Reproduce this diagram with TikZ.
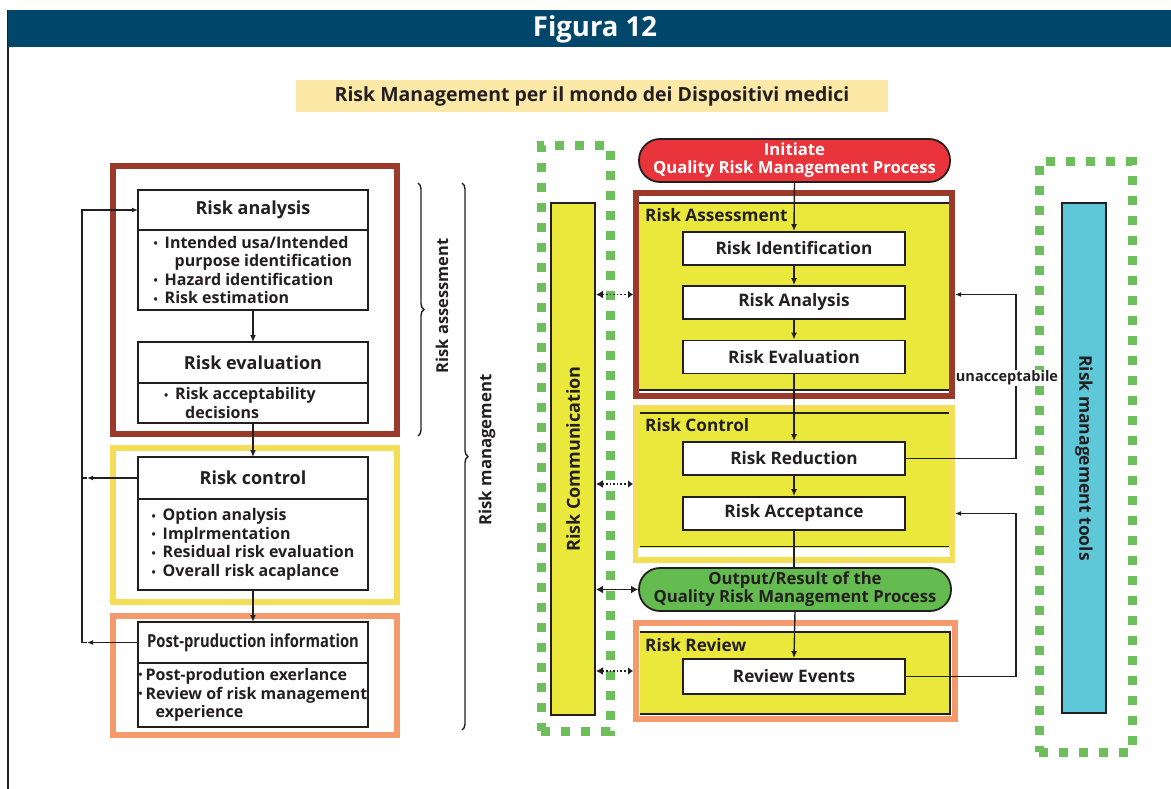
\documentclass[tikz,border=0pt]{standalone}
\usepackage{fontspec}
\setmainfont{Open Sans}
\usepackage{graphicx}
\usetikzlibrary{arrows.meta,decorations.pathreplacing,calc}

\definecolor{barblue}{HTML}{00476B}
\definecolor{subbg}{HTML}{FDE9A7}
\definecolor{rustred}{HTML}{9B3A2A}
\definecolor{paleyel}{HTML}{F4DE58}
\definecolor{salmon}{HTML}{F59A6C}
\definecolor{dotgreen}{HTML}{6CBF5B}
\definecolor{lemon}{HTML}{EBE83C}
\definecolor{pillred}{HTML}{E8343A}
\definecolor{pillgreen}{HTML}{64BB4F}
\definecolor{toolcyan}{HTML}{5EC8D9}
\definecolor{ink}{HTML}{231F20}

\newcommand{\fsz}[1]{\fontsize{#1}{#1}\selectfont}
\newcommand{\bul}{\makebox[11pt][l]{\raisebox{0.5pt}{\scalebox{0.7}{\textbullet}}}}
\newcommand{\tbul}{\makebox[7pt][l]{\raisebox{2pt}{\scalebox{0.65}{\textbullet}}}}

\begin{document}
\begin{tikzpicture}[x=1pt,y=-1pt,
  every node/.style={text=ink},
  lhead/.style={draw=ink, line width=2.2pt, fill=white, minimum width=230pt,
    inner sep=0pt, outer sep=0pt, font=\bfseries\fsz{18}},
  lbody/.style={draw=ink, line width=2.2pt, fill=white, minimum width=230pt,
    inner sep=0pt, outer sep=0pt, align=left, anchor=north,
    font=\bfseries\fontsize{16}{18.6}\selectfont},
  rbox/.style={draw=ink, line width=1.8pt, fill=white, minimum width=222pt,
    minimum height=33pt, inner sep=0pt, font=\bfseries\fsz{17.2}},
  pill/.style={draw=ink, line width=1.8pt, rounded corners=21pt, minimum width=311pt,
    minimum height=43pt, inner sep=0pt, align=center,
    font=\bfseries\fontsize{16.7}{18}\selectfont},
  seclabel/.style={anchor=west, inner sep=0pt, font=\bfseries\fsz{17.2}},
  sidebar/.style={draw=ink, line width=2pt, inner sep=0pt, minimum height=44pt,
    font=\bfseries\fsz{17.5}},
  dotframe/.style={draw=dotgreen, line width=9pt, dash pattern=on 9pt off 11pt},
  arr/.style={ink, line width=1.4pt, -{Latex[length=7pt,width=6pt]}},
  plain/.style={ink, line width=1.4pt},
  fb/.style={ink, line width=1.2pt},
  fbtip/.style={ink, line width=1.2pt, -{Latex[length=6pt,width=5pt]}},
  talk/.style={ink, line width=1.6pt, dotted,
    {Latex[length=7pt,width=8pt]}-{Latex[length=5pt,width=8pt]}},
  talksolid/.style={ink, line width=1.6pt,
    {Latex[length=7pt,width=8pt]}-{Latex[length=7pt,width=8pt]}},
  bracer/.style={ink, line width=1.4pt, decorate, decoration={brace, amplitude=6pt}},
  bracelabel/.style={rotate=90, inner sep=0pt, font=\bfseries\fsz{16.4}}
]
\useasboundingbox (0,0) rectangle (1171,789);

% ---------- frame, title bar and subtitle ----------
\draw[ink, line width=2pt] (8,10) -- (8,789);
\node[fill=barblue, minimum width=1163pt, minimum height=37pt, inner sep=0pt,
  anchor=north west] (titlebar) at (8,10) {};
\node[text=white, font=\bfseries\fsz{27.5}, inner sep=0pt] (titletxt) at (595,29) {Figura 12};
\node[fill=subbg, minimum width=592pt, minimum height=32pt, inner sep=0pt,
  font=\bfseries\fsz{19.5}] (subtitle) at (592,96)
  {Risk Management per il mondo dei Dispositivi medici};

% ---------- left scheme: coloured frames ----------
\draw[rustred, line width=6pt] (113,166) rectangle (397,434);
\draw[paleyel, line width=6pt] (113,448) rectangle (397,602);
\draw[salmon, line width=6pt] (113,616) rectangle (397,735);

% ---------- left scheme: boxes ----------
\node[lhead, minimum height=40pt] (rah) at (253,210) {Risk analysis};
\node[lbody, minimum height=80pt] (rab) at (rah.south)
  {\bul Intended usa/Intended\\
   \hspace*{21pt}purpose identification\\
   \bul Hazard identification\\
   \bul Risk estimation};

\node[lhead, minimum height=41pt] (reh) at (253,362.5) {Risk evaluation};
\node[lbody, minimum height=40pt] (reb) at (reh.south)
  {\bul Risk acceptability\hspace*{26pt}\\
   \hspace*{21pt}decisions};

\node[lhead, minimum height=42pt] (rch) at (253,478) {Risk control};
\node[lbody, minimum height=91pt] (rcb) at (rch.south)
  {\bul Option analysis\\
   \bul Implrmentation\\
   \bul Residual risk evaluation\\
   \bul Overall risk acaplance};

\node[lhead, minimum height=41pt] (pph) at (253,642.5)
  {\scalebox{0.82}[1]{Post-pruduction information}};
\node[lbody, minimum height=64pt] (ppb) at (pph.south)
  {\tbul Post-prodution exerlance\\
   \tbul Review of risk management\\
   \hspace*{17pt}experience};

% ---------- left scheme: connectors ----------
\draw[arr] (rab.south) -- (reh.north);
\draw[arr] (reb.south) -- (rch.north);
\draw[arr] (rcb.south) -- (pph.north);

\coordinate (lx) at (82,0);
\coordinate (tipx) at (87,0);
\draw[fbtip] (rch.west) -- (rch.west -| tipx);
\draw[fb] (rch.west -| tipx) -- (rch.west -| lx);
\draw[fbtip] (pph.west) -- (pph.west -| tipx);
\draw[fb] (pph.west -| tipx) -- (pph.west -| lx);
\draw[fbtip] (pph.west -| lx) -- (rah.west -| lx) -- (rah.west);

% ---------- braces ----------
\coordinate (ba1) at (418,183);
\coordinate (ba2) at (418,436);
\coordinate (bm1) at (462,183);
\coordinate (bm2) at (462,730);
\draw[bracer] (ba1) -- (ba2);
\draw[bracer] (bm1) -- (bm2);
\node[bracelabel] (lblass) at (442,306) {Risk assessment};
\node[bracelabel, font=\bfseries\fsz{16.8}] (lblman) at (487,450) {Risk management};

% ---------- right scheme: dotted frames and side bars ----------
\node[dotframe, minimum width=69pt, minimum height=585pt, inner sep=0pt] (commframe)
  at (575.5,438.5) {};
\node[dotframe, minimum width=93pt, minimum height=590pt, inner sep=0pt] (toolframe)
  at (1085.5,457) {};
\node[sidebar, fill=lemon, rotate=90, minimum width=512pt, font=\bfseries\fsz{18}] (comm)
  at (573,459) {Risk Communication};
\node[sidebar, fill=toolcyan, rotate=-90, minimum width=510pt] (tools) at (1084,458)
  {Risk management tools};

% ---------- right scheme: sections ----------
\node[draw=rustred, line width=6pt, fill=white, minimum width=316pt,
  minimum height=203pt, inner sep=0pt] (asec) at (794,294.5) {};
\fill[lemon] (639,203) rectangle (949,390);
\draw[ink, line width=1.6pt] (639,203) -- (949,203) (639,390) -- (949,390);
\node[seclabel] (asl) at (645,215) {Risk Assessment};

\node[draw=paleyel, line width=5pt, fill=lemon, minimum width=317pt,
  minimum height=153pt, inner sep=0pt] (csec) at (794,484) {};
\fill[white] (638,548) rectangle (950,557);
\draw[ink, line width=1.6pt] (640,413) -- (949,413) (640,546.5) -- (949,546.5);
\node[seclabel] (csl) at (645,425) {Risk Control};

\node[draw=salmon, line width=6pt, fill=white, minimum width=319pt,
  minimum height=96pt, inner sep=0pt] (rsec) at (795.5,671) {};
\fill[lemon] (640,632) rectangle (950,714);
\draw[ink, line width=1.6pt] (640,632) -- (950,632) -- (950,714) -- (640,714);
\node[seclabel] (rsl) at (645,645) {Risk Review};

% ---------- right scheme: process boxes ----------
\node[pill, fill=pillred, text=white] (init) at (794.5,160.5)
  {Initiate\\Quality Risk Management Process};
\node[rbox] (rid) at (794,248.5) {Risk Identification};
\node[rbox] (rana) at (794,302.5) {Risk Analysis};
\node[rbox] (reva) at (794,357) {Risk Evaluation};
\node[rbox] (rred) at (794,458.5) {Risk Reduction};
\node[rbox] (racc) at (794,513.5) {Risk Acceptance};
\node[pill, fill=pillgreen, minimum width=312pt] (outp) at (795,589.5)
  {Output/Result of the\\Quality Risk Management Process};
\node[rbox, minimum height=35pt] (rev) at (794,676.5) {Review Events};

% ---------- right scheme: main flow ----------
\draw[arr] (init.south) -- (rid.north);
\draw[arr] (rid.south) -- (rana.north);
\draw[arr] (rana.south) -- (reva.north);
\draw[arr] (reva.south) -- (rred.north);
\draw[arr] (rred.south) -- (racc.north);
\draw[plain] (racc.south) -- (racc.south |- outp.north);
\draw[arr] (outp.south) -- (rev.north);

% ---------- feedback loops ----------
\coordinate (rx) at (1016,0);
\draw[fbtip] (rred.east) -- (rred.east -| rx) |- (asec.east);
\draw[fbtip] (rev.east) -- (rev.east -| rx) |- (racc.east -| csec.east);
\node[fill=white, inner sep=1pt, font=\bfseries\fsz{14.5}] (unacc) at (1007,378)
  {unacceptabile};

% ---------- communication links ----------
\draw[talk] (asec.west -| comm.south) -- (asec.west);
\draw[talk] (csec.west -| comm.south) -- (csec.west);
\draw[talksolid] (outp.west -| comm.south) -- (outp.west);
\draw[talk] (rsec.west -| comm.south) -- (rsec.west);
\end{tikzpicture}
\end{document}
